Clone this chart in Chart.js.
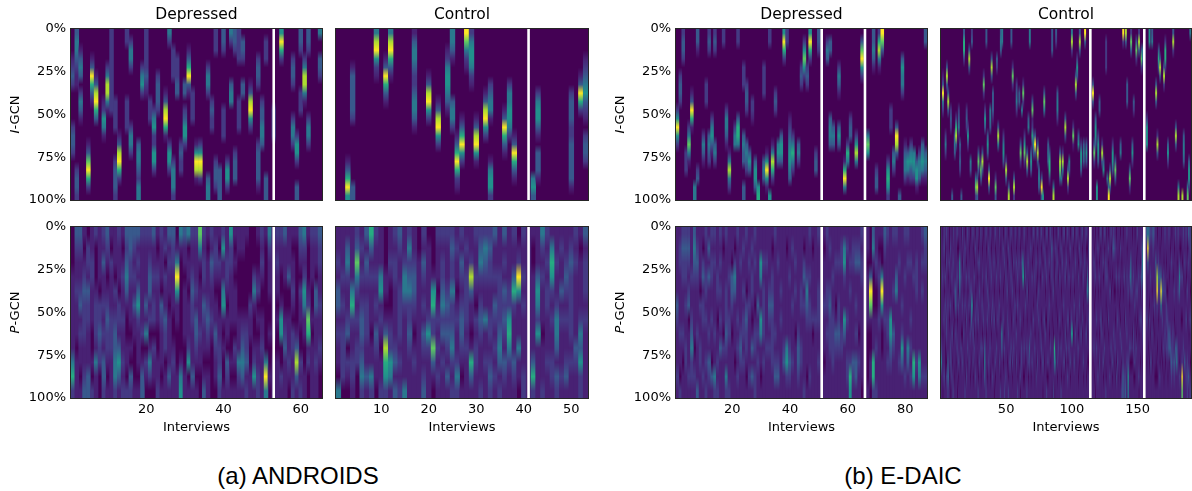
<!DOCTYPE html>
<html>
<head>
<meta charset="utf-8">
<title>ANDROIDS and E-DAIC attention maps</title>
<script src="https://cdn.jsdelivr.net/npm/chart.js@4"></script>
<style>
  html, body { margin: 0; padding: 0; background: #fff; }
  body { position: relative; width: 1192px; height: 491px; overflow: hidden; }
  canvas { position: absolute; }
  .caption { position: absolute; top: 462px; width: 300px; text-align: center; font: 24px "Liberation Sans", Arial, sans-serif; color: #000; }
</style>
</head>
<body>
<div class="caption" style="left:148px">(a) ANDROIDS</div>
<div class="caption" style="left:753px">(b) E-DAIC</div>
<script>
Chart.defaults.font.family = '"DejaVu Sans"';

// interview counts and tick labels
const androidsDepCount = 65, androidsCtrlCount = 53, daicDepCount = 87, daicCtrlCount = 190;
const androidsDepTicks = [20, 40, 60], androidsCtrlTicks = [10, 20, 30, 40, 50];
const daicDepTicks = [20, 40, 60, 80], daicCtrlTicks = [50, 100, 150];
const yTickLabels = [0, 25, 50, 75, 100];

// white separators between interview groups
const androidsDepSeps = [53], androidsCtrlSeps = [41], daicDepSeps = [51, 66], daicCtrlSeps = [114, 155];

// colour for level 0..9
const viridis = ['#440154', '#482173', '#443a83', '#38598c', '#2a788e', '#21918c', '#26ad81', '#5ec962', '#addc30', '#fde725'];

// I-GCN: [interview, first row of 20, levels going down], everything else is level 0
const androidsDepI = [
  [2,0,'3443211'],[1,3,'1232'],[3,2,'1343'],[3,7,'2431'],[1,11,'2332'],[6,3,'139631'],[7,5,'138963'],[10,4,'248841'],
  [9,8,'12541'],[11,0,'22222221'],[11,7,'222'],[12,8,'2222'],[12,15,'23332'],[13,12,'138962'],[5,13,'137962'],[2,16,'2332'],
  [16,1,'2442'],[15,0,'22'],[15,8,'2222'],[16,11,'2442'],[18,13,'34432441'],[19,4,'2452'],[20,0,'2222'],[20,4,'2321'],
  [22,9,'2452'],[21,8,'222'],[22,13,'2552'],[23,5,'23332'],[25,7,'138961'],[26,0,'42'],[26,13,'2552'],[27,2,'2222'],
  [27,15,'24442'],[28,3,'22233'],[29,13,'2322'],[30,9,'23552'],[30,6,'33'],[31,2,'136931'],[32,7,'2222'],[33,13,'15981'],
  [34,13,'25982'],[36,4,'2442'],[36,17,'344'],[37,8,'2322'],[38,0,'222'],[38,15,'2332'],[39,16,'3333'],[40,0,'332'],
  [40,9,'2222'],[41,15,'2552'],[42,0,'42'],[42,6,'344'],[43,0,'332'],[43,14,'2333'],[44,8,'2222'],[44,0,'2222'],
  [45,1,'332'],[45,6,'33'],[47,6,'138952'],[49,3,'2332'],[49,13,'233331'],[50,8,'233443'],[51,1,'222'],[51,17,'333'],
  [53,9,'2222'],[55,0,'5962'],[58,3,'2332'],[58,10,'2442'],[59,12,'2552'],[59,18,'33'],[60,0,'332'],
  [60,7,'222'],[61,3,'248841'],[62,0,'332'],[62,10,'2442'],[65,0,'4'],[65,3,'332']
];
const androidsCtrlI = [
  [3,15,'13695'],[4,18,'33'],[4,4,'1333332'],[9,0,'489521'],[12,0,'489631'],[11,3,'139631'],[17,0,'1344321'],[17,6,'234431'],
  [20,5,'138952'],[22,8,'138952'],[24,2,'12455431'],[25,0,'4431'],[25,8,'3442'],[28,0,'97421'],[29,0,'2455421'],[27,10,'136952'],
  [26,12,'1369621'],[30,10,'138951'],[32,7,'138952'],[33,6,'23441'],[33,15,'14552'],[36,9,'139631'],[37,6,'2445542'],[38,12,'139631'],
  [42,17,'453'],[43,7,'245531'],[43,14,'3331'],[50,7,'233321'],[50,12,'2333331'],[52,5,'13962'],[53,3,'12345321'],[53,12,'2332']
];
const daicDepI = [
  [1,9,'25952'],[2,5,'2332'],[3,0,'2332'],[6,7,'13961'],[5,11,'24741'],[4,14,'222'],[8,0,'331'],[8,16,'23'],[7,18,'44'],
  [10,12,'2431'],[11,6,'222'],[12,0,'232'],[12,12,'3432'],[13,10,'24531'],[14,0,'232'],[14,13,'342'],[17,0,'22'],[18,9,'24431'],
  [19,14,'14842'],[21,11,'244'],[22,10,'3664'],[22,0,'22'],[24,4,'222'],[24,12,'3433'],[24,18,'33'],[25,6,'2332'],[25,13,'3432'],
  [26,14,'353'],[27,8,'221'],[28,15,'3553'],[29,18,'56'],[31,4,'2222'],[31,15,'343'],[32,14,'15951'],[33,0,'22'],[33,19,'5'],
  [34,13,'14862'],[35,7,'232'],[36,13,'453'],[37,12,'3553'],[38,0,'5962'],[39,0,'22'],[40,10,'12345543'],[41,12,'24642'],[43,13,'342'],
  [44,4,'232'],[45,1,'25752'],[46,4,'232'],[47,0,'5962'],[49,14,'233'],[50,0,'332'],[53,1,'243'],[54,1,'33'],[54,10,'3443'],
  [55,11,'343'],[57,4,'2431'],[57,11,'353'],[59,15,'1694'],[60,13,'264'],[61,10,'233'],[63,12,'2584'],[65,1,'37952'],[67,12,'475'],
  [69,0,'33431'],[70,16,'233'],[72,0,'973'],[71,0,'26841'],[74,15,'25652'],[75,9,'222'],[76,14,'342'],[77,11,'3983'],[78,19,'3'],
  [79,3,'35442'],[80,13,'13442'],[81,14,'3541'],[82,13,'24532'],[83,14,'4542'],[84,15,'3551'],[85,14,'2443'],[86,13,'34541'],[87,14,'3431'],[87,0,'33']
];
const daicCtrlI = [
  [2,5,'13942'],[5,4,'383'],[6,7,'383'],[4,12,'242'],[12,10,'2683'],[8,9,'232'],[18,0,'3662'],[22,2,'383'],[21,11,'252'],[27,17,'472'],
  [28,17,'383'],[29,14,'373'],[31,15,'273'],[32,14,'383'],[35,0,'33'],[33,5,'272'],[37,16,'393'],[39,3,'383'],[42,17,'273'],[44,11,'384'],
  [46,0,'343'],[48,12,'2453'],[50,15,'283'],[52,18,'38'],[54,0,'33'],[55,4,'272'],[56,17,'382'],[58,6,'2342'],[61,13,'372'],[63,6,'272'],
  [64,12,'2572'],[66,14,'383'],[68,0,'44'],[70,8,'371'],[70,11,'262'],[72,12,'393'],[74,13,'383'],[77,17,'393'],[78,19,'5'],[79,7,'374'],
  [83,14,'3662'],[85,0,'333'],[86,18,'48'],[89,7,'3442'],[91,14,'3873'],[93,14,'284'],[95,10,'383'],[97,16,'382'],[100,0,'482'],[101,11,'271'],
  [103,5,'383'],[104,3,'253'],[106,0,'383'],[107,13,'2553'],[110,0,'93'],[111,13,'353'],[116,6,'393'],[117,13,'372'],[118,10,'3553'],[120,12,'2553'],
  [123,13,'283'],[119,18,'55'],[126,1,'2222'],[128,18,'49'],[129,16,'383'],[131,13,'2553'],[133,15,'373'],[139,0,'92'],[141,0,'83'],[142,6,'333'],
  [144,16,'372'],[145,0,'273'],[146,13,'352'],[149,1,'372'],[151,0,'283'],[153,2,'372'],[157,10,'2555'],[159,0,'55'],[161,0,'34'],[164,6,'383'],
  [165,12,'283'],[166,2,'363'],[167,3,'383'],[170,4,'382'],[171,1,'2662'],[173,13,'352'],[177,0,'382'],[179,11,'383'],[181,18,'48'],[184,19,'8'],
  [185,12,'3443'],[188,18,'47'],[189,15,'3552'],[190,0,'4'],[11,12,'343'],[14,9,'2341'],[15,13,'3232'],[20,9,'232'],[23,15,'43'],[24,0,'23'],
  [16,19,'3'],[9,19,'3'],[36,12,'353'],[40,7,'3331'],[38,9,'443'],[43,3,'32'],[34,9,'253'],[47,0,'44'],[60,7,'33'],[62,9,'4'],
  [67,10,'34'],[69,14,'353'],[71,12,'353'],[75,16,'343'],[82,13,'343'],[88,0,'32'],[92,17,'4'],[98,15,'43'],[105,12,'35'],[109,13,'343'],
  [121,8,'33'],[124,15,'35'],[127,17,'4'],[137,13,'34'],[147,8,'32'],[154,2,'44']
];

// P-GCN: one string per interview, 12 levels from top to bottom
const androidsDepP = [
  '000111111462','321121110111','321123121101','101232221123','022132211133','112211100102','200012221411','111102232200','213112121332','321012322101',
  '102111222111','111021233442','211102213531','101211211212','323431001102','332211101032','321213110001','312135211101','211111120133','211113140210',
  '212331201420','311212202110','101211100112','211103211101','120211322011','312110111131','322111001211','014951100011','410000000145','311011110011',
  '401101112501','211232211131','211121332101','741011121100','212213211013','101112321011','213211210000','122101132110','102100112232','251145101001',
  '112210110321','522111100101','101011102101','110000111421','110000123431','100000122312','000002110011','000241001251','100120101122','212100112111',
  '100000000494','421110010010','111111110111','212110100111','211001550021','311100123111','111300111210','101121022112','100000013831','321021100212',
  '421254110011','100012761200','211100101111','211033111211','322112112100'
];
const androidsCtrlP = [
  '112133121104','111212122220','134211230210','111146211221','237421212200','121212332342','313212221131','631211101142','211212132110','111451210112',
  '000110138652','112100122541','212211112313','321122221212','112442111114','242342232111','112332101211','001111111111','213212132123','011111252111',
  '000156227310','211101212121','212234231211','211123232131','232242234212','121101211242','213212332101','121222212111','112831101631','211210212211',
  '234212321112','243211411211','232211221232','311213212121','111222234312','312132321321','111122564211','211362111321','012951114110','211212111122',
  '111111111111','100111111362','111354251111','421211101112','212122111211','146521211221','112112443132','121131211121','112321211231','123222221211',
  '212111113211','101111243522','312221211111'
];
const daicDepP = [
  '111113211121','122111121102','232211121011','232212112211','232123011121','111211234221','343211110121','123211121113','111102112211','102312211121',
  '211221211212','131311121321','212211211031','212111121142','111221011212','212121213111','101111102111','211122232142','111211221112','110332101111',
  '102431111011','211111212121','112111123211','121121221211','211102322101','112112111121','121221013131','212110122122','111113121211','115411541101',
  '112122221211','112111112111','111123212111','101223222211','211111121231','112111111231','111121211111','111111112311','101111114521','111211112321',
  '121112111211','112121101111','111111123321','111122112211','102312111112','111243211101','211212211121','101111201111','111111211111','211122211211',
  '111111111111','101112111011','211122121111','121123222111','111211222211','112110132111','112112232111','122111122111','145211531111','121111211221',
  '112121111265','122111111321','123112121331','123111101211','212211111110','111111111111','110111100001','000397100110','341000111662','112100112112',
  '101211211111','100495100111','321111211111','211111221211','111111553211','211121132111','211341111111','112111111211','111112125311','211211111121',
  '212111114311','112111212121','111211111651','112221111211','111111111541','212121111121','322111111121'
];
const daicCtrlP = [
  '111111112411','011211101110','221101211121','100212110001','212111221021','111012111332','002111011101','121102112210','011211121021','212110101112',
  '111121011101','111133121011','201211012110','101102111201','114431111011','011211102111','210112101211','112101121011','021112011102','110211211121',
  '211101112011','101212011211','011121121101','111124311011','201110121201','110211102111','021101211121','211012101011','102111211102','012121011211',
  '211011112101','101212102111','011101211011','111111113431','201211101112','111021211101','021102111211','212111012101','101211201111','011112111021',
  '112101211110','201111011201','110211102111','012111211011','211102111211','101211011102','111111143111','021101211011','112011102112','201211011121',
  '110121211011','021101121102','112110111211','201211012011','110121111201','012011212111','211102111011','102111021211','011212111102','212101111011',
  '101111211120','012111102211','114511011101','211011112101','101202111011','011121012112','112101111201','111111113211','021111021101','110211111211',
  '201110211111','011211102101','112101111021','201012111211','011121201111','112011121011','201111012111','110211101210','021111211011','112101021111',
  '201211011102','011111211201','112012101111','211101112011','132211011110','011121101112','110001116410','021210111011','112111011201','201011112111',
  '110211201111','021101112102','112111011111','201112101201','011211121011','112011102111','201111211021','110211012111','021101111201','111111251011',
  '201211101111','011102111211','112111021011','201011211111','110211102101','021112111011','112011021111','201111201111','011210111201','112101011111',
  '201011121101','101341101011','021101211011','111111111111','100110101101','011101111011','102110112101','011201111110','110111202111','021101111021',
  '110211101211','201101211011','011111021111','112011111201','201111102011','012210111102','111211011111','020111201111','111021111021','201101112111',
  '121011111201','231101121011','121101012101','011211111021','110101211201','101210111111','021101021101','110111112012','011101111233','111211011122',
  '111011211123','201211121211','111121111254','111210112011','113421112011','011121101011','111211122101','011112011201','110121102111','201121011111',
  '111211101120','110101211011','122321211111','134311121011','111111111111','110121011101','311101211011','493111010111','321110211011','211211101211',
  '211101121011','321111011111','211112101101','113211111001','011892110101','112321011111','101321111021','011394110111','111131211011','110221112101',
  '211121121011','110102212111','111101222101','211011133011','101111123211','012111112321','111011122211','101121011321','211111103211','110111113411',
  '211121111111','102431111021','101211011111','110211011297','211011112111','112101111311','211011211121','101121011222','312111101131','221101211012'
];

const rowsI = 20, rowsP = 12;

function gridFromStreaks(streaks, count) {
  const grid = Array.from({ length: rowsI }, () => new Array(count).fill(0));
  streaks.forEach(([col, start, levels]) => {
    [...levels].forEach((d, i) => {
      if (start + i < rowsI) grid[start + i][col - 1] = Math.max(grid[start + i][col - 1], +d);
    });
  });
  return grid;
}

function gridFromColumns(columns, count) {
  const grid = Array.from({ length: rowsP }, () => new Array(count).fill(0));
  columns.forEach((levels, col) => {
    [...levels].forEach((d, r) => { grid[r][col] = +d; });
  });
  return grid;
}

// matplotlib-like interpolation: resample the finished cells per row and stretch them back smoothly
const smoothCells = {
  id: 'smoothCells',
  beforeDatasetsDraw(chart) {
    const a = chart.chartArea;
    chart.ctx.save();
    chart.ctx.fillStyle = viridis[0];
    chart.ctx.fillRect(a.left, a.top, a.width, a.height);
    chart.ctx.restore();
  },
  afterDatasetsDraw(chart, args, opts) {
    const a = chart.chartArea, ctx = chart.ctx;
    const off = document.createElement('canvas');
    off.width = Math.round(a.width);
    off.height = opts.rows;
    const o = off.getContext('2d');
    o.imageSmoothingEnabled = false;
    o.drawImage(chart.canvas, a.left, a.top, a.width, a.height, 0, 0, off.width, off.height);
    ctx.save();
    ctx.beginPath();
    ctx.rect(a.left, a.top, a.width, a.height);
    ctx.clip();
    ctx.imageSmoothingEnabled = true;
    ctx.imageSmoothingQuality = 'high';
    ctx.filter = 'blur(' + opts.soft + 'px)';
    ctx.drawImage(off, a.left, a.top, a.width, a.height);
    ctx.restore();
  },
  afterDraw(chart, args, opts) {
    const a = chart.chartArea, ctx = chart.ctx;
    ctx.save();
    ctx.strokeStyle = '#fff';
    ctx.lineWidth = 2.6;
    opts.seps.forEach(s => {
      const x = chart.scales.x.getPixelForValue(s - 1);
      ctx.beginPath();
      ctx.moveTo(x, a.top);
      ctx.lineTo(x, a.bottom);
      ctx.stroke();
    });
    ctx.strokeStyle = '#262626';
    ctx.lineWidth = 1;
    ctx.strokeRect(a.left - 0.5, a.top - 0.5, a.width + 1, a.height + 1);
    // y label, the first letter is set in italics
    if (opts.yLabel) {
      const cy = (a.top + a.bottom) / 2;
      ctx.translate(opts.yLabelX, cy);
      ctx.rotate(-Math.PI / 2);
      ctx.fillStyle = '#000';
      ctx.textBaseline = 'middle';
      const head = opts.yLabel[0], tail = opts.yLabel.slice(1);
      ctx.font = 'italic 13px "DejaVu Sans"';
      const hw = ctx.measureText(head).width;
      ctx.font = '13px "DejaVu Sans"';
      const tw = ctx.measureText(tail).width;
      ctx.fillText(tail, -(hw + tw) / 2 + hw, 0);
      ctx.font = 'italic 13px "DejaVu Sans"';
      ctx.fillText(head, -(hw + tw) / 2, 0);
    }
    ctx.restore();
  }
};

function drawPanel(p) {
  const rows = p.grid.length;
  const labels = Array.from({ length: p.count }, (_, i) => String(i + 1));
  const xH = p.xTicks ? 37 : 12;
  const topH = p.title ? 26 : 12;
  const yW = p.yLabel ? p.marginLeft : 6;

  const canvas = document.createElement('canvas');
  canvas.width = yW + p.plotW + 1;
  canvas.height = topH + 171 + xH;
  canvas.style.left = (p.plotL - yW) + 'px';
  canvas.style.top = (p.plotT - topH) + 'px';
  document.body.appendChild(canvas);

  new Chart(canvas.getContext('2d'), {
    type: 'bar',
    data: {
      labels: labels,
      datasets: p.grid.map(row => ({
        data: row.map(() => 100 / rows),
        backgroundColor: row.map(v => v === 0 ? 'rgba(0,0,0,0)' : viridis[v]),
        borderWidth: 0,
        barPercentage: 1,
        categoryPercentage: 1
      }))
    },
    options: {
      responsive: false,
      animation: false,
      events: [],
      layout: { padding: { top: p.title ? 0 : topH, right: 1, left: 0, bottom: 0 } },
      plugins: {
        legend: { display: false },
        tooltip: { enabled: false },
        title: {
          display: !!p.title,
          text: p.title,
          fullSize: false,
          color: '#000',
          font: { size: 15.5, weight: 'normal', lineHeight: 1 },
          padding: { top: 4, bottom: 6.5 }
        },
        smoothCells: { rows: rows, soft: p.soft, seps: p.seps, yLabel: p.yLabel, yLabelX: p.yLabelX }
      },
      scales: {
        x: {
          stacked: true,
          grid: { display: false, drawTicks: false },
          border: { display: false },
          title: { display: !!p.xTicks, text: 'Interviews', color: '#000', font: { size: 13 }, padding: 0 },
          ticks: {
            display: !!p.xTicks,
            autoSkip: false,
            maxRotation: 0,
            color: '#000',
            font: { size: 13 },
            padding: 4,
            callback: function (v) {
              const lab = this.getLabelForValue(v);
              return p.xTicks && p.xTicks.includes(+lab) ? lab : '';
            }
          },
          afterFit: s => { s.height = xH; s.paddingLeft = 0; s.paddingRight = 0; }
        },
        y: {
          stacked: true,
          reverse: true,
          min: 0,
          max: 100,
          grid: { display: false, drawTicks: false },
          border: { display: false },
          afterBuildTicks: s => { s.ticks = yTickLabels.map(v => ({ value: v })); },
          ticks: {
            display: !!p.yLabel,
            color: '#000',
            font: { size: 13 },
            padding: 5,
            callback: v => v + '%'
          },
          afterFit: s => { s.width = yW; s.paddingTop = 0; s.paddingBottom = 0; }
        }
      }
    },
    plugins: [smoothCells]
  });
}

const topRow = 29, bottomRow = 227;
drawPanel({ grid: gridFromStreaks(androidsDepI, androidsDepCount), count: androidsDepCount, seps: androidsDepSeps, title: 'Depressed', yLabel: 'I-GCN', yLabelX: 16, marginLeft: 71, plotL: 71, plotT: topRow, plotW: 251, soft: 0.6 });
drawPanel({ grid: gridFromStreaks(androidsCtrlI, androidsCtrlCount), count: androidsCtrlCount, seps: androidsCtrlSeps, title: 'Control', plotL: 336, plotT: topRow, plotW: 252, soft: 0.7 });
drawPanel({ grid: gridFromStreaks(daicDepI, daicDepCount), count: daicDepCount, seps: daicDepSeps, title: 'Depressed', yLabel: 'I-GCN', yLabelX: 11, marginLeft: 66, plotL: 676, plotT: topRow, plotW: 251, soft: 0.6 });
drawPanel({ grid: gridFromStreaks(daicCtrlI, daicCtrlCount), count: daicCtrlCount, seps: daicCtrlSeps, title: 'Control', plotL: 941, plotT: topRow, plotW: 250, soft: 0.3 });

drawPanel({ grid: gridFromColumns(androidsDepP, androidsDepCount), count: androidsDepCount, seps: androidsDepSeps, xTicks: androidsDepTicks, yLabel: 'P-GCN', yLabelX: 16, marginLeft: 71, plotL: 71, plotT: bottomRow, plotW: 251, soft: 0.6 });
drawPanel({ grid: gridFromColumns(androidsCtrlP, androidsCtrlCount), count: androidsCtrlCount, seps: androidsCtrlSeps, xTicks: androidsCtrlTicks, plotL: 336, plotT: bottomRow, plotW: 252, soft: 0.7 });
drawPanel({ grid: gridFromColumns(daicDepP, daicDepCount), count: daicDepCount, seps: daicDepSeps, xTicks: daicDepTicks, yLabel: 'P-GCN', yLabelX: 11, marginLeft: 66, plotL: 676, plotT: bottomRow, plotW: 251, soft: 0.6 });
drawPanel({ grid: gridFromColumns(daicCtrlP, daicCtrlCount), count: daicCtrlCount, seps: daicCtrlSeps, xTicks: daicCtrlTicks, plotL: 941, plotT: bottomRow, plotW: 250, soft: 0.3 });
</script>
</body>
</html>
